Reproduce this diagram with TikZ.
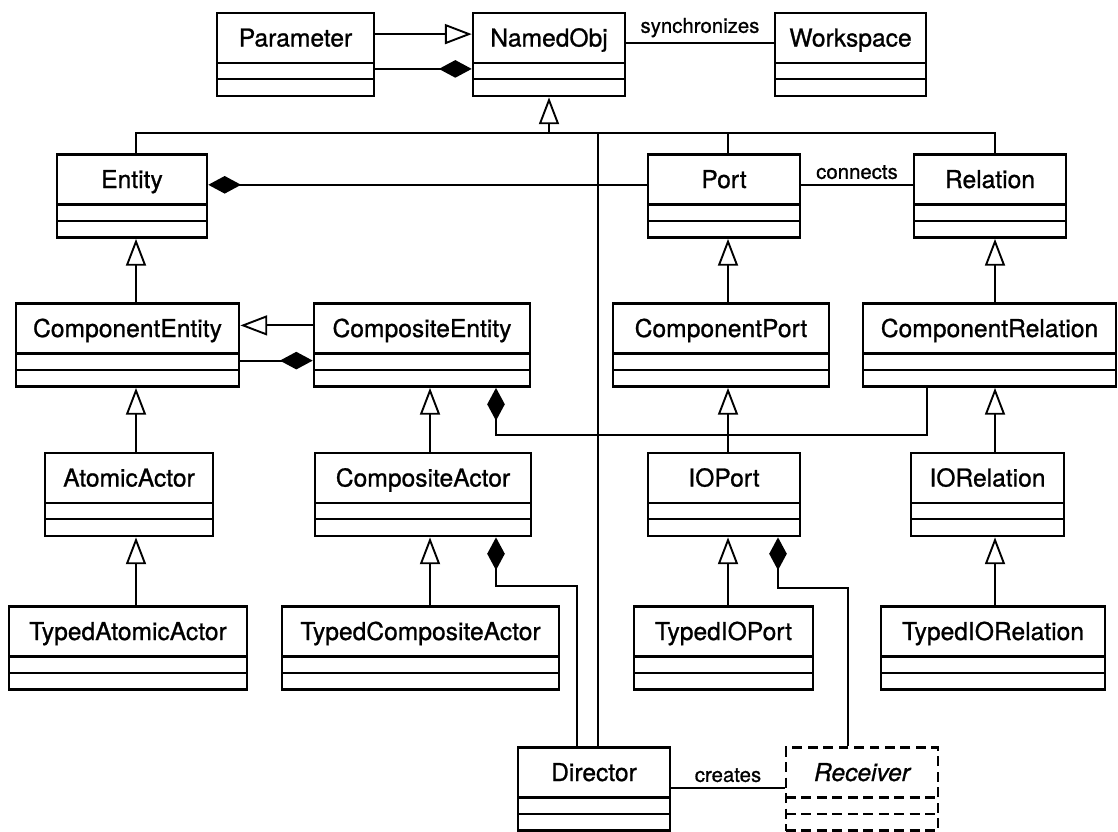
\documentclass[tikz,border=0pt]{standalone}
\usepackage{fontspec}
\setmainfont{TeX Gyre Heros}[FakeBold=0.9]
\usetikzlibrary{arrows.meta,positioning,calc}
\tikzset{
classbox/.style={draw, line width=1.8pt, minimum width=#1, inner xsep=4pt, inner ysep=0pt,
   text height=0.84cm, text depth=1.24cm, font=\fontsize{17.5}{20}\selectfont,
   path picture={
      \draw[divider] ([yshift=-1.25cm]path picture bounding box.north west) -- ([yshift=-1.25cm]path picture bounding box.north east);
      \draw[divider] ([yshift=-1.66cm]path picture bounding box.north west) -- ([yshift=-1.66cm]path picture bounding box.north east);
   }}, % class with name, attribute and operation parts
divider/.style={line width=1.6pt},
wire/.style={line width=1.35pt},
inherit/.style={wire, -{Triangle[open, length=0.67cm, width=0.5cm]}}, % generalization
compose/.style={wire, {Diamond[length=0.82cm, width=0.44cm]}-}, % composition, diamond at the whole
assoclabel/.style={above, font=\fontsize{14.5}{16}\selectfont},
}

\begin{document}
\begin{tikzpicture}[x=0.025cm, y=-0.025cm]
   \useasboundingbox (0,0) rectangle (1118,831);
   \node[classbox=3.93cm] (param) at (295.5,54.5) {Parameter};
   \node[classbox=3.8cm] (named) at (549,54.5) {NamedObj};
   \node[classbox=3.78cm] (workspace) at (850.5,54.5) {Workspace};
   \node[classbox=3.75cm] (entity) at (132,196) {Entity};
   \node[classbox=3.8cm] (port) at (724,196) {Port};
   \node[classbox=3.8cm] (relation) at (990,196) {Relation};
   \node[classbox=5.58cm] (compEntity) at (127.5,345) {ComponentEntity};
   \node[classbox=5.4cm] (compositeEntity) at (422,345) {CompositeEntity};
   \node[classbox=5.4cm] (compPort) at (721,345) {ComponentPort};
   \node[classbox=6.33cm] (compRelation) at (989.5,345) {ComponentRelation};
   \node[classbox=4.2cm] (atomic) at (129,494.5) {AtomicActor};
   \node[classbox=5.4cm] (compositeActor) at (423,494.5) {CompositeActor};
   \node[classbox=3.8cm] (ioport) at (724,494.5) {IOPort};
   \node[classbox=3.83cm] (iorelation) at (987.5,494.5) {IORelation};
   \node[classbox=5.95cm] (typedAtomic) at (128,648) {TypedAtomicActor};
   \node[classbox=6.93cm] (typedComposite) at (420.5,648) {TypedCompositeActor};
   \node[classbox=4.48cm] (typedIOPort) at (723.5,648) {TypedIOPort};
   \node[classbox=5.6cm] (typedIORelation) at (993,648) {TypedIORelation};
   \node[classbox=3.8cm] (director) at (594,789) {Director};
   \node[classbox=3.8cm, dash pattern=on 7pt off 4pt, divider/.append style={dash pattern=on 7pt off 4pt},
      font=\fontsize{17.5}{20}\selectfont\itshape] (receiver) at (862,789) {Receiver};

   \coordinate (busy) at (0,133);
   \coordinate (bus) at (named.south |- busy);
   \coordinate (colA) at (136,0);
   \coordinate (colB) at (430,0);
   \coordinate (colC) at (496,0);
   \coordinate (colDirL) at (577,0);
   \coordinate (colDir) at (598,0);
   \coordinate (colP) at (728,0);
   \coordinate (colIO) at (778,0);
   \coordinate (colRec) at (848,0);
   \coordinate (colR) at (927,0);
   \coordinate (colD) at (995,0);

   \draw[inherit] ([yshift=0.51cm]param.east) -- ([yshift=0.51cm]named.west);
   \draw[compose] ([yshift=-0.36cm]named.west) -- ([yshift=-0.36cm]param.east);
   \draw[wire] ([yshift=0.29cm]named.east) -- node[assoclabel] {synchronizes} ([yshift=0.29cm]workspace.west);

   \draw[inherit] (bus) -- (named.south);
   \draw[wire] (entity.north -| colA) |- (bus);
   \draw[wire] (relation.north -| colD) |- (bus);
   \draw[wire] (port.north -| colP) -- (bus -| colP);
   \draw[wire] (director.north -| colDir) -- (bus -| colDir);

   \draw[compose] ([yshift=0.28cm]entity.east) -- ([yshift=0.28cm]port.west);
   \draw[wire] ([yshift=0.28cm]port.east) -- node[assoclabel] {connects} ([yshift=0.28cm]relation.west);

   \draw[inherit] (compEntity.north -| colA) -- (entity.south -| colA);
   \draw[inherit] (atomic.north -| colA) -- (compEntity.south -| colA);
   \draw[inherit] (typedAtomic.north -| colA) -- (atomic.south -| colA);
   \draw[inherit] ([yshift=0.49cm]compositeEntity.west) -- ([yshift=0.49cm]compEntity.east);
   \draw[compose] ([yshift=-0.39cm]compositeEntity.west) -- ([yshift=-0.39cm]compEntity.east);
   \draw[inherit] (compositeActor.north -| colB) -- (compositeEntity.south -| colB);
   \draw[inherit] (typedComposite.north -| colB) -- (compositeActor.south -| colB);

   \draw[inherit] (compPort.north -| colP) -- (port.south -| colP);
   \draw[inherit] (ioport.north -| colP) -- (compPort.south -| colP);
   \draw[inherit] (typedIOPort.north -| colP) -- (ioport.south -| colP);
   \draw[inherit] (compRelation.north -| colD) -- (relation.south -| colD);
   \draw[inherit] (iorelation.north -| colD) -- (compRelation.south -| colD);
   \draw[inherit] (typedIORelation.north -| colD) -- (iorelation.south -| colD);

   \draw[compose] (compositeEntity.south -| colC) -- ++(0,47) -| (compRelation.south -| colR);
   \draw[compose] (compositeActor.south -| colC) -- ++(0,49) -| (director.north -| colDirL);
   \draw[compose] (ioport.south -| colIO) -- ++(0,51) -| (receiver.north -| colRec);
   \draw[wire] ([yshift=0.03cm]director.east) -- node[assoclabel] {creates} ([yshift=0.03cm]receiver.west);
\end{tikzpicture}
\end{document}
